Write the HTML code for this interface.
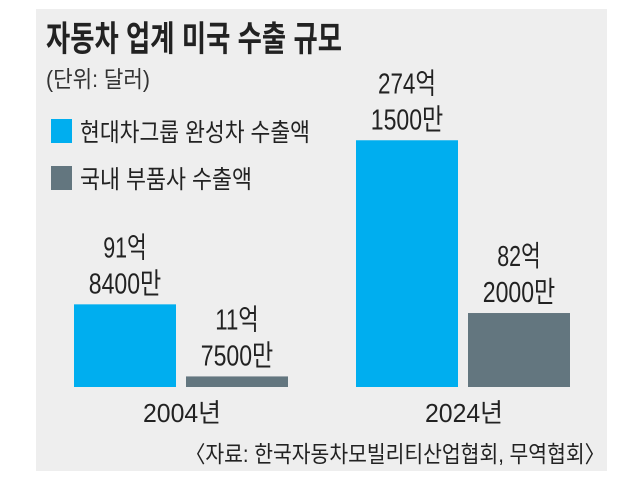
<!DOCTYPE html>
<html><head><meta charset="utf-8"><style>
body{margin:0;width:640px;height:489px;background:#fff;overflow:hidden;font-family:"Liberation Sans","Noto Sans CJK KR",sans-serif}
</style></head><body>
<svg width="640" height="489" style="font-family:'Liberation Sans','Noto Sans CJK KR',sans-serif">
<rect x="36" y="9" width="571" height="462" fill="#eeeeee"/>
<text x="46" y="51" font-size="35" font-weight="bold" fill="#222" textLength="296" lengthAdjust="spacingAndGlyphs">자동차 업계 미국 수출 규모</text>
<text x="46" y="87" font-size="23" fill="#333" textLength="104" lengthAdjust="spacingAndGlyphs">(단위: 달러)</text>
<rect x="51" y="119" width="21" height="24" fill="#00aeef"/>
<text x="80" y="141" font-size="25" fill="#222" textLength="230" lengthAdjust="spacingAndGlyphs">현대차그룹 완성차 수출액</text>
<rect x="51" y="166" width="21" height="24" fill="#63767f"/>
<text x="80" y="188" font-size="25" fill="#222" textLength="172" lengthAdjust="spacingAndGlyphs">국내 부품사 수출액</text>
<g id="bars"></g>
<text x="182" y="422" font-size="26" fill="#222" text-anchor="middle" textLength="78" lengthAdjust="spacingAndGlyphs">2004년</text>
<text x="464" y="422" font-size="26" fill="#222" text-anchor="middle" textLength="78" lengthAdjust="spacingAndGlyphs">2024년</text>
<text x="605" y="462" font-size="23" fill="#222" text-anchor="end" textLength="420" lengthAdjust="spacingAndGlyphs">〈자료: 한국자동차모빌리티산업협회, 무역협회〉</text>
</svg>
<script>
const years=["2004","2024"];
const hyundai=[91.84,274.15];
const parts=[11.75,82.2];
const hyundaiLabels=[["91억","8400만"],["274억","1500만"]];
const partsLabels=[["11억","7500만"],["82억","2000만"]];
const base=387, scale=0.9;
const y=v=>base-v*scale;
const groupX=i=>74+i*282;
const g=document.getElementById('bars');
const NS='http://www.w3.org/2000/svg';
function bar(x,v,color,name){
 const r=document.createElementNS(NS,'rect');
 r.setAttribute('x',x);r.setAttribute('y',y(v));r.setAttribute('width',102);r.setAttribute('height',v*scale);r.setAttribute('fill',color);
 
 
 g.appendChild(r);
}
function lab(cx,v,lines,name){
 lines.forEach((t,k)=>{
  const e=document.createElementNS(NS,'text');
  e.setAttribute('x',cx);e.setAttribute('y',y(v)-11-(lines.length-1-k)*36);
  e.setAttribute('font-size','29');e.setAttribute('fill','#222');e.setAttribute('text-anchor','middle');
  e.setAttribute('textLength',t.length*14.5);e.setAttribute('lengthAdjust','spacingAndGlyphs');
  e.textContent=t;
  
  
  g.appendChild(e);
 });
}
years.forEach((yr,i)=>{
 const x=groupX(i);
 bar(x,hyundai[i],'#00aeef','bar-hyundai-'+yr);
 bar(x+112,parts[i],'#63767f','bar-parts-'+yr);
 lab(x+51,hyundai[i],hyundaiLabels[i],'value-label-hyundai-'+yr);
 lab(x+163,parts[i],partsLabels[i],'value-label-parts-'+yr);
});
</script>
</body></html>
